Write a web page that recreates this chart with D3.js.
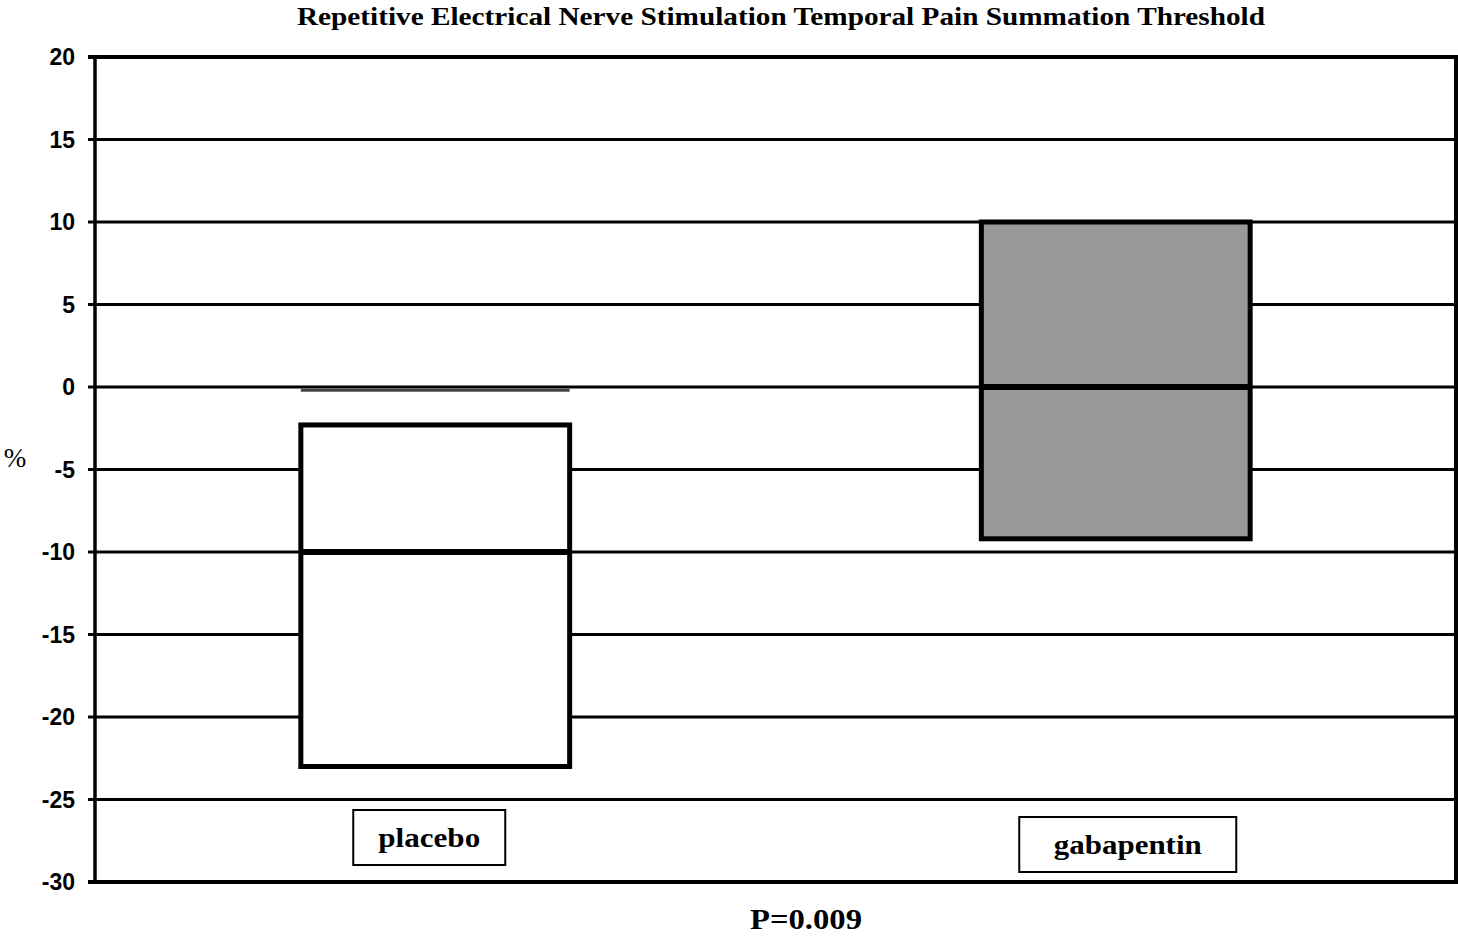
<!DOCTYPE html>
<html>
<head>
<meta charset="utf-8">
<script src="https://cdn.jsdelivr.net/npm/d3@7"></script>
<style>
  body { margin: 0; background: #fff; }
  svg { display: block; }
</style>
</head>
<body>
<div id="chart"></div>
<script>
// data
var categories = ["placebo", "gabapentin"];
var boxLow    = [-23, -9.2];
var boxHigh   = [-2.3, 10];
var medians   = [-10, 0];
var whiskerHi = [-0.2, null];   // thin grey line above the placebo box
var boxFills  = ["#ffffff", "#999999"];
var yTicks    = [20, 15, 10, 5, 0, -5, -10, -15, -20, -25, -30];
var pValue    = "P=0.009";

drawChart();

function drawChart(){

var width = 1458, height = 936;
var plotLeft = 95, plotRight = 1456, plotTop = 57, plotBottom = 882;

var svg = d3.select("#chart")
  .append("svg")
    .attr("width", width)
    .attr("height", height);

var x = d3.scaleBand()
    .domain(categories)
    .range([plotLeft, plotRight]);

var y = d3.scaleLinear()
    .domain([-30, 20])
    .range([plotBottom, plotTop]);

var boxW = x.bandwidth() * 0.395;
var cx = function(d){ return x(d) + x.bandwidth() / 2; };

// grid lines
svg.append("g")
  .selectAll("line")
  .data(yTicks)
  .enter()
  .append("line")
    .attr("x1", plotLeft - 7)
    .attr("x2", plotRight)
    .attr("y1", function(d){ return y(d); })
    .attr("y2", function(d){ return y(d); })
    .style("stroke", "#000")
    .style("stroke-width", function(d){ return (d == 20 || d == -30) ? 4 : 3; });

// frame: left axis and right edge
svg.append("line")
    .attr("x1", plotLeft).attr("x2", plotLeft)
    .attr("y1", plotTop - 2).attr("y2", plotBottom + 2)
    .style("stroke", "#000").style("stroke-width", 3.5);
svg.append("line")
    .attr("x1", plotRight).attr("x2", plotRight)
    .attr("y1", plotTop - 2).attr("y2", plotBottom + 2)
    .style("stroke", "#000").style("stroke-width", 4);

// tick labels
svg.append("g")
  .selectAll("text")
  .data(yTicks)
  .enter()
  .append("text")
    .attr("x", 75)
    .attr("y", function(d){ return y(d); })
    .attr("dy", "0.36em")
    .attr("text-anchor", "end")
    .style("font-family", "Liberation Sans, Arial, sans-serif")
    .style("font-weight", "bold")
    .style("font-size", "23px")
    .text(function(d){ return d; });

svg.append("text")
    .attr("x", 15)
    .attr("y", 458)
    .attr("dy", "0.35em")
    .attr("text-anchor", "middle")
    .style("font-family", "Liberation Serif, Times New Roman, serif")
    .style("font-size", "27px")
    .text("%");

// thin whisker line for placebo
svg.append("g")
  .selectAll("line")
  .data(categories.filter(function(c, i){ return whiskerHi[i] != null; }))
  .enter()
  .append("line")
    .attr("x1", function(d){ return cx(d) - boxW / 2; })
    .attr("x2", function(d){ return cx(d) + boxW / 2; })
    .attr("y1", function(d){ return y(whiskerHi[categories.indexOf(d)]); })
    .attr("y2", function(d){ return y(whiskerHi[categories.indexOf(d)]); })
    .style("stroke", "#444")
    .style("stroke-width", 3);

// boxes
var boxes = svg.append("g")
  .selectAll("g")
  .data(categories)
  .enter()
  .append("g");

boxes.append("rect")
    .attr("x", function(d){ return cx(d) - boxW / 2; })
    .attr("y", function(d, i){ return y(boxHigh[i]); })
    .attr("width", boxW)
    .attr("height", function(d, i){ return y(boxLow[i]) - y(boxHigh[i]); })
    .style("fill", function(d, i){ return boxFills[i]; })
    .style("stroke", "#000")
    .style("stroke-width", 5);

boxes.append("line")
    .attr("x1", function(d){ return cx(d) - boxW / 2; })
    .attr("x2", function(d){ return cx(d) + boxW / 2; })
    .attr("y1", function(d, i){ return y(medians[i]); })
    .attr("y2", function(d, i){ return y(medians[i]); })
    .style("stroke", "#000")
    .style("stroke-width", 6);

// category label boxes (placed by hand in the original)
var labelShift = [-6, 12];
var labelTop = [810, 817];
var labelW = [152, 217];
var labelTextW = [102, 148];

var labels = svg.append("g")
  .selectAll("g")
  .data(categories)
  .enter()
  .append("g")
    .attr("transform", function(d, i){
      return "translate(" + (cx(d) + labelShift[i]) + "," + labelTop[i] + ")";
    });

labels.append("rect")
    .attr("x", function(d, i){ return -labelW[i] / 2; })
    .attr("y", 0)
    .attr("width", function(d, i){ return labelW[i]; })
    .attr("height", 55)
    .style("fill", "#fff")
    .style("stroke", "#000")
    .style("stroke-width", 2);

labels.append("text")
    .attr("x", 0)
    .attr("y", 37)
    .attr("text-anchor", "middle")
    .attr("textLength", function(d, i){ return labelTextW[i]; })
    .attr("lengthAdjust", "spacingAndGlyphs")
    .style("font-family", "Liberation Serif, Times New Roman, serif")
    .style("font-weight", "bold")
    .style("font-size", "27px")
    .text(function(d){ return d; });

// title and p value
svg.append("text")
    .attr("x", 781)
    .attr("y", 25)
    .attr("text-anchor", "middle")
    .attr("textLength", 968)
    .attr("lengthAdjust", "spacingAndGlyphs")
    .style("font-family", "Liberation Serif, Times New Roman, serif")
    .style("font-weight", "bold")
    .style("font-size", "26px")
    .text("Repetitive Electrical Nerve Stimulation Temporal Pain Summation Threshold");

svg.append("text")
    .attr("x", 806)
    .attr("y", 929)
    .attr("text-anchor", "middle")
    .attr("textLength", 112)
    .attr("lengthAdjust", "spacingAndGlyphs")
    .style("font-family", "Liberation Serif, Times New Roman, serif")
    .style("font-weight", "bold")
    .style("font-size", "29px")
    .text(pValue);
}
</script>
</body>
</html>
